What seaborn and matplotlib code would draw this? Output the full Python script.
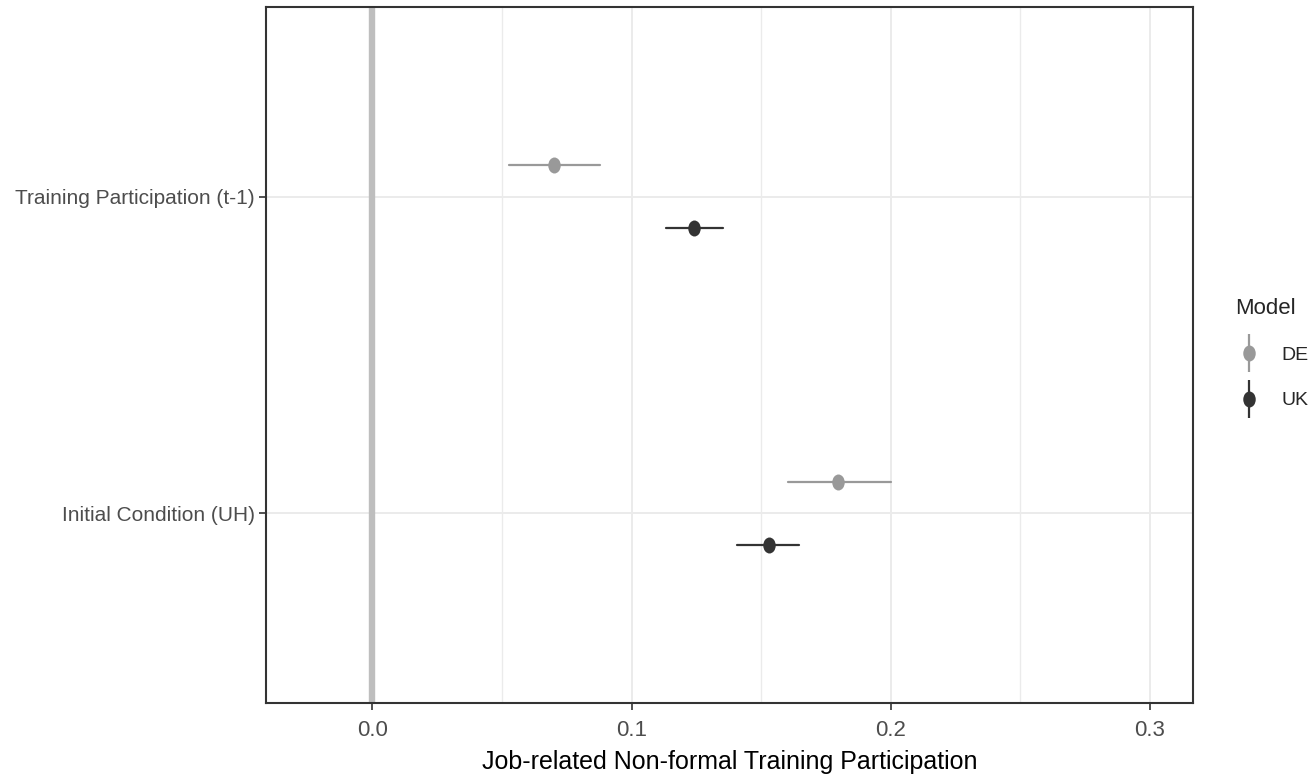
import numpy as np
import pandas as pd
import matplotlib
matplotlib.use("Agg")
import matplotlib.pyplot as plt
from matplotlib.path import Path
from matplotlib.transforms import Affine2D
from matplotlib.lines import Line2D
from matplotlib.legend_handler import HandlerTuple
import seaborn as sns

# ---- data ----
terms = ["Training Participation (t-1)", "Initial Condition (UH)"]
models = ["DE", "UK"]
de_est = [0.0702, 0.1798]
de_low = [0.0527, 0.1605]
de_high = [0.0878, 0.2001]
uk_est = [0.1241, 0.1530]
uk_low = [0.1132, 0.1406]
uk_high = [0.1352, 0.1647]
x_ticks = [0.0, 0.1, 0.2, 0.3]
x_label = "Job-related Non-formal Training Participation"
legend_title = "Model"

# long table: low/est/high per row -> median = estimate, 100% interval = CI
rows = []
for m, est, lo, hi in [("DE", de_est, de_low, de_high), ("UK", uk_est, uk_low, uk_high)]:
    for t, e, l, h in zip(terms, est, lo, hi):
        for v in (l, e, h):
            rows.append({"term": t, "model": m, "value": v})
df = pd.DataFrame(rows)

sns.set_theme(style="white")
plt.rcParams["font.family"] = ["Liberation Sans", "DejaVu Sans"]

colors = {"DE": "#999999", "UK": "#333333"}
ell = Path.unit_circle().transformed(Affine2D().scale(0.78, 1.0))

fig = plt.figure(figsize=(13.15, 7.79), dpi=100)
ax = fig.add_axes([0.2021, 0.0976, 0.9072 - 0.2021, 0.991 - 0.0976])

ax.axvline(0, color="#BEBEBE", lw=4.6, zorder=1)

sns.pointplot(data=df, x="value", y="term", hue="model", order=terms,
              hue_order=models, palette=colors, estimator="median",
              errorbar=("pi", 100), dodge=0.2, linestyle="none",
              marker=ell, markersize=11.5, markeredgewidth=0,
              err_kws={"linewidth": 1.6}, ax=ax, legend=False, zorder=3)

ax.set_xlim(-0.0411, 0.3166)
ax.set_ylim(1.6, -0.6)
ax.set_xticks(x_ticks)
ax.set_xticklabels([f"{v:.1f}" for v in x_ticks])
ax.set_xticks([0.05, 0.15, 0.25], minor=True)
ax.grid(True, which="major", color="#EBEBEB", lw=1.4, zorder=0)
ax.grid(True, which="minor", axis="x", color="#EBEBEB", lw=1.0, zorder=0)
ax.set_axisbelow(True)
for s in ax.spines.values():
    s.set_color("#333333")
    s.set_linewidth(1.5)
ax.tick_params(axis="both", which="major", length=5, width=1.2, color="#333333",
               labelcolor="#4D4D4D", pad=3, bottom=True, left=True)
ax.tick_params(axis="x", which="major", labelsize=16, pad=7)
ax.tick_params(axis="y", which="major", labelsize=15, pad=3)
ax.tick_params(axis="x", which="minor", length=0)
ax.set_xlabel(x_label, fontsize=18, color="black")
ax.xaxis.label.set_va("center")
ax.xaxis.set_label_coords(0.5, (703 - 762) / 696)
ax.set_ylabel("")

handles = []
for m in models:
    vline = Line2D([], [], color=colors[m], marker="|", markersize=27,
                   markeredgewidth=1.6, linestyle="none")
    pt = Line2D([], [], color=colors[m], marker=ell, markersize=11.5,
                markeredgewidth=0, linestyle="none")
    handles.append((vline, pt))
leg = fig.legend(handles, models, title=legend_title, loc="upper left",
                 bbox_to_anchor=(1235 / 1315, 1 - 298 / 779), frameon=False,
                 borderpad=0, borderaxespad=0,
                 handler_map={tuple: HandlerTuple(ndivide=1, pad=0)},
                 fontsize=14, title_fontsize=16, handlelength=1.4,
                 handletextpad=1.0, labelspacing=1.42, alignment="left")

fig.savefig("out.png", dpi=100)
